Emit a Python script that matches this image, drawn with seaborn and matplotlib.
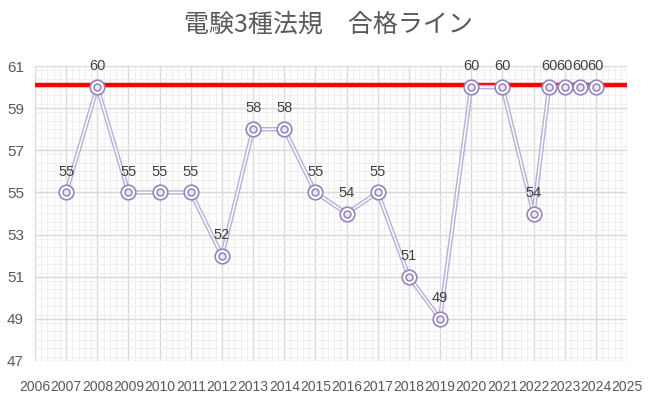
import matplotlib
matplotlib.use("Agg")
import matplotlib.pyplot as plt
import seaborn as sns
import pandas as pd
from matplotlib.ticker import MultipleLocator

years = [2007, 2008, 2009, 2010, 2011, 2012, 2013, 2014, 2015, 2016, 2017,
         2018, 2019, 2020, 2021, 2022, 2022.5, 2023, 2023.5, 2024]
scores = [55, 60, 55, 55, 55, 52, 58, 58, 55, 54, 55,
          51, 49, 60, 60, 54, 60, 60, 60, 60]
pass_line = 60.1
x_ticks = list(range(2006, 2026))
y_ticks = list(range(47, 62, 2))
title = "電験3種法規　合格ライン"

df = pd.DataFrame({"year": years, "score": scores})

sns.set_theme(style="white")
plt.rcParams['font.family'] = ['Liberation Sans', 'Noto Sans CJK JP', 'DejaVu Sans']

fig = plt.figure(figsize=(6.58, 4.0), dpi=100)
ax = fig.add_axes([35/658, 1 - 361/400, (627-35)/658, (361-66)/400])

ax.set_xlim(2006, 2025)
ax.set_ylim(47, 61)
ax.set_xticks(x_ticks)
ax.set_yticks(y_ticks)
ax.xaxis.set_minor_locator(MultipleLocator(0.2))
ax.yaxis.set_minor_locator(MultipleLocator(0.4))
ax.grid(which='major', color='#d9d9d9', lw=1.0, zorder=0)
ax.grid(which='minor', color='#efefef', lw=0.8, zorder=0)
ax.set_axisbelow(True)
for s in ax.spines.values():
    s.set_visible(False)
ax.tick_params(which='both', length=0)
ax.tick_params(axis='x', labelsize=10, colors='#595959', pad=14)
ax.tick_params(axis='y', labelsize=11, colors='#595959', pad=8)

# pass line
ax.axhline(pass_line, color='#ff0000', lw=3.2, zorder=3)

line_col = '#bcb0da'
mark_col = '#9484bd'
sns.lineplot(data=df, x='year', y='score', ax=ax, color=line_col, lw=3.2,
             zorder=4, legend=False)
sns.lineplot(data=df, x='year', y='score', ax=ax, color='white', lw=1.1,
             zorder=5, legend=False)
ax.plot(df['year'], df['score'], ls='none', marker='o', ms=10.5, mfc='white',
        mec=mark_col, mew=1.2, zorder=6)
ax.plot(df['year'], df['score'], ls='none', marker='o', ms=5, mfc='#ece6f4',
        mec=mark_col, mew=1.1, zorder=7)
ax.set_xlabel('')
ax.set_ylabel('')

for xv, yv in zip(years, scores):
    ax.annotate(f"{yv}", (xv, yv), xytext=(0, 15), textcoords='offset points',
                ha='center', va='center', fontsize=10.5, color='#404040', zorder=8)

fig.text(328/658, 1 - 25/400, title, ha='center', va='center', fontsize=18,
         color='#595959', family=['Noto Sans CJK JP', 'DejaVu Sans'])

fig.savefig('out.png', dpi=100)
